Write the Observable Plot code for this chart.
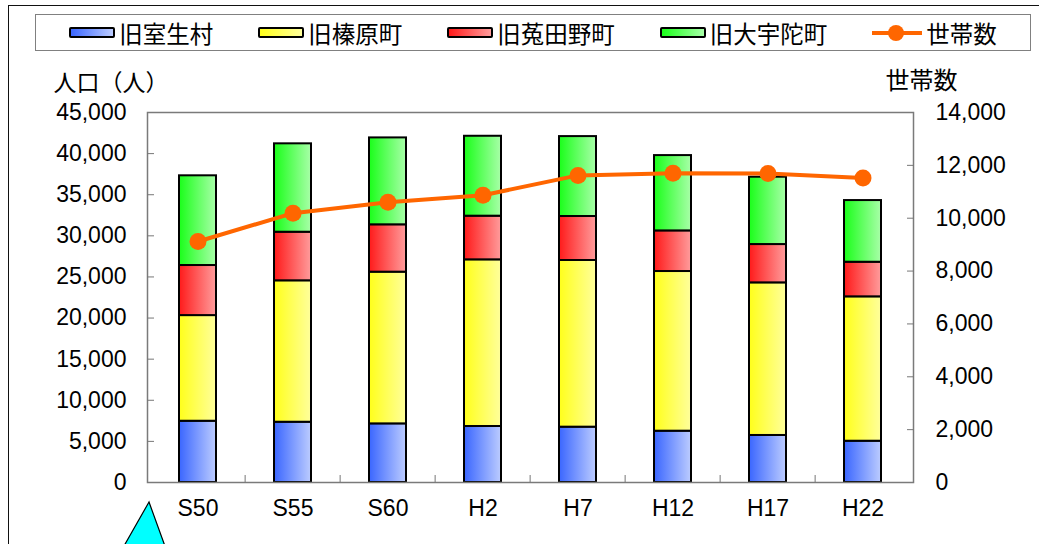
<!DOCTYPE html>
<html>
<head>
<meta charset="utf-8">
<script src="https://cdn.jsdelivr.net/npm/d3@7"></script>
<script src="https://cdn.jsdelivr.net/npm/@observablehq/plot@0.6"></script>
<style>
  body { margin: 0; background: #fff; }
  #wrap { position: relative; width: 1039px; height: 544px; overflow: hidden; background: #fff; }
  #chart { position: absolute; left: 0; top: 0; }
  #outer { position: absolute; left: 8px; top: 5px; width: 1100px; height: 600px;
           border-left: 1.5px solid #111; border-top: 1.5px solid #111; pointer-events: none; }
  #legend { position: absolute; left: 35px; top: 14px; width: 996px; height: 37px;
            border: 1px solid #808080; box-sizing: border-box; background: #fff;
            display: flex; align-items: center; justify-content: center; gap: 45px;
            font-family: "Noto Sans CJK JP", sans-serif; font-size: 23.5px; color: #000; }
  .item { display: flex; align-items: center; white-space: nowrap; }
  .sw { display: inline-block; width: 42px; height: 7px; border: 2px solid #000;
        border-radius: 2px; margin-right: 4px; }
  #deco { position: absolute; left: 0; top: 0; pointer-events: none; }
</style>
</head>
<body>
<div id="wrap">
  <div id="chart"></div>
  <div id="legend"></div>
  <div id="outer"></div>
  <svg id="deco" width="1039" height="544">
    <polygon points="149,502 116,560 170,560" fill="#00ffff" stroke="#000" stroke-width="1.2"/>
  </svg>
</div>
<script>
// Census years (Showa / Heisei)
const years = ["S50", "S55", "S60", "H2", "H7", "H12", "H17", "H22"];
// Former municipalities, stacked bottom to top
const areas = ["旧室生村", "旧榛原町", "旧菟田野町", "旧大宇陀町"];
// Population by former municipality
const muro    = [7450, 7330, 7130, 6810, 6730, 6240, 5720, 5020];
const haibara = [12850, 17200, 18450, 20270, 20270, 19420, 18560, 17560];
const utano   = [6090, 5910, 5760, 5310, 5350, 4940, 4660, 4210];
const ouda    = [10910, 10750, 10570, 9720, 9720, 9160, 8190, 7500];
// Number of households (right axis)
const households = [9120, 10190, 10600, 10870, 11620, 11700, 11690, 11520];

const popTicks = d3.range(0, 45001, 5000);
const hhTicks = d3.range(0, 14001, 2000);
const popMax = 45000, hhMax = 14000;
const k = popMax / hhMax;   // household axis mapped onto population axis

// bar fills: saturated on the left, pale on the right
const gradients = [
  ["g0", "#3a66ff", "#bcccff"],
  ["g1", "#ffff1a", "#ffff9c"],
  ["g2", "#ff1a1a", "#ff9c9c"],
  ["g3", "#1aff1a", "#a8ffa8"]
];
const fills = gradients.map(g => `url(#${g[0]})`);

const columns = [muro, haibara, utano, ouda];
const rows = areas.flatMap((a, i) => years.map((y, j) => ({year: y, area: a, value: columns[i][j]})));
const hhRows = years.map((y, j) => ({year: y, hh: households[j]}));

const W = 1039, H = 544;
const mL = 147, mR = 126, mT = 112, mB = 62;
const step = (W - mL - mR) / years.length;
const fmt = d3.format(",");
const numFont = "Liberation Sans, Arial, sans-serif";
const jpFont = "Noto Sans CJK JP, sans-serif";

const chart = Plot.plot({
  width: W, height: H,
  marginLeft: mL, marginRight: mR, marginTop: mT, marginBottom: mB,
  style: {background: "transparent", fontFamily: numFont, fontSize: "23px", color: "#000"},
  x: {domain: years, padding: 0, axis: null},
  y: {domain: [0, popMax], axis: null},
  color: {domain: areas, range: fills, legend: false},
  marks: [
    Plot.barY(rows, {x: "year", y: "value", fill: "area", stroke: "#000", strokeWidth: 2,
                     insetLeft: 29, insetRight: 29}),
    Plot.frame({stroke: "#7a7a7a", strokeWidth: 1.5}),
    // left axis: labels and inward ticks
    Plot.axisY(popTicks, {anchor: "left", tickSize: 0, tickPadding: 21, tickFormat: fmt,
                          label: null, fontSize: 23}),
    Plot.axisY(popTicks.slice(1, -1), {anchor: "left", tickSize: 7, dx: 7, fill: "none",
                                       stroke: "#777", label: null}),
    // right axis (households)
    Plot.axisY(hhTicks.map(v => v * k), {anchor: "right", tickSize: 0, tickPadding: 22,
                                         tickFormat: d => fmt(Math.round(d / k)),
                                         label: null, fontSize: 23}),
    Plot.axisY(hhTicks.slice(1, -1).map(v => v * k), {anchor: "right", tickSize: 7, dx: -7,
                                                       fill: "none", stroke: "#777", label: null}),
    // category axis with ticks between groups
    Plot.axisX(years, {anchor: "bottom", tickSize: 0, tickPadding: 17, label: null, fontSize: 23}),
    Plot.axisX(years.slice(1), {anchor: "bottom", tickSize: 7, dy: -7, dx: -step / 2,
                                fill: "none", stroke: "#777", label: null}),
    // households line
    Plot.line(hhRows, {x: "year", y: d => d.hh * k, stroke: "#ff6600", strokeWidth: 4}),
    Plot.dot(hhRows, {x: "year", y: d => d.hh * k, r: 8.5, fill: "#ff6600", stroke: "none"}),
    // axis titles
    Plot.text(["人口（人）"], {frameAnchor: "top-left", text: d => d, dx: -94, dy: -29,
                            textAnchor: "start", lineAnchor: "middle",
                            fontFamily: jpFont, fontSize: 23, fill: "#000"}),
    Plot.text(["世帯数"], {frameAnchor: "top-right", text: d => d, dx: -28, dy: -31,
                          textAnchor: "start", lineAnchor: "middle",
                          fontFamily: jpFont, fontSize: 24, fill: "#000"})
  ]
});

chart.insertAdjacentHTML("afterbegin",
  "<defs>" + gradients.map(([id, a, b]) =>
    `<linearGradient id="${id}" x1="0" y1="0" x2="1" y2="0">` +
    `<stop offset="0" stop-color="${a}"/><stop offset="1" stop-color="${b}"/></linearGradient>`
  ).join("") + "</defs>");
document.getElementById("chart").appendChild(chart);

// legend
const legend = document.getElementById("legend");
areas.forEach((a, i) => {
  const it = document.createElement("div");
  it.className = "item";
  const g = gradients[i];
  it.innerHTML = `<span class="sw" style="background:linear-gradient(to right, ${g[1]}, ${g[2]})"></span>${a}`;
  legend.appendChild(it);
});
const hhItem = document.createElement("div");
hhItem.className = "item";
hhItem.innerHTML = `<svg width="50" height="20" style="margin-right:4px">
  <line x1="0" y1="10" x2="50" y2="10" stroke="#ff6600" stroke-width="4"/>
  <circle cx="24" cy="10" r="8" fill="#ff6600"/></svg>世帯数`;
legend.appendChild(hhItem);
</script>
</body>
</html>
